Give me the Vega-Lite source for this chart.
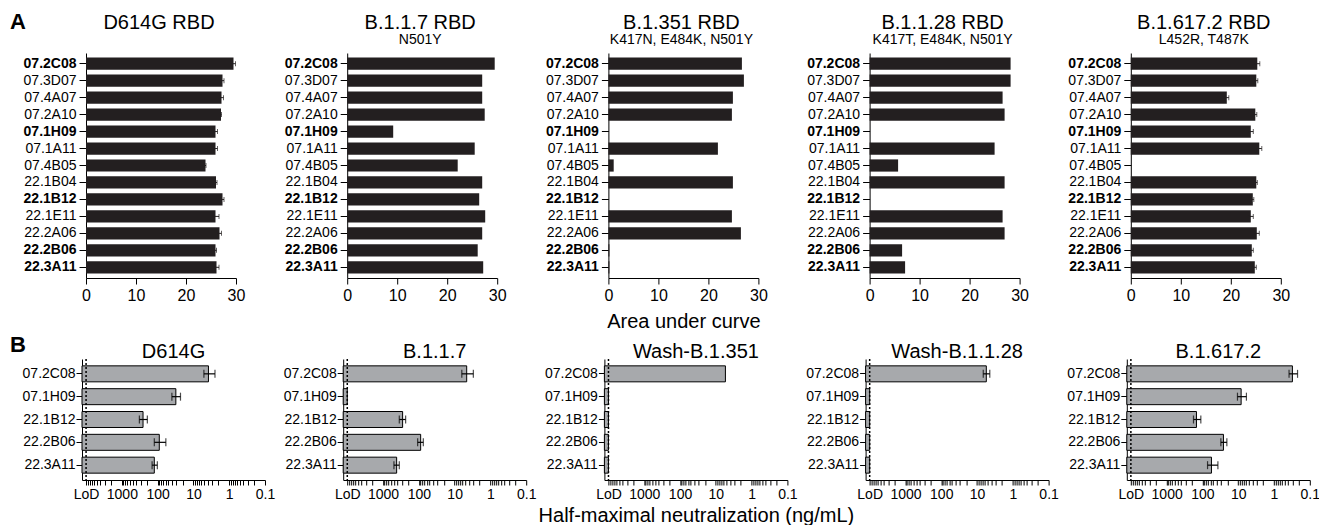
{
  "$schema": "https://vega.github.io/schema/vega-lite/v6.json",
  "padding": {"left": 10, "top": 10, "right": 0, "bottom": 0},
  "config": {
    "font": "Liberation Sans",
    "view": {"stroke": null},
    "axis": {"domainColor": "black", "tickColor": "black", "labelColor": "black", "titleColor": "black", "grid": false, "labelFontSize": 14, "titleFontSize": 20, "titleFontWeight": "normal", "domainWidth": 1, "tickWidth": 1, "labelFlush": false},
    "title": {"fontSize": 20, "fontWeight": "normal", "subtitleFontSize": 14, "color": "black", "subtitleColor": "black", "anchor": "middle"}
  },
  "datasets": {
    "auc": [
      {"panel": "D614G RBD", "mAb": "07.2C08", "auc": 29.5, "lo": 29.1, "hi": 29.9},
      {"panel": "D614G RBD", "mAb": "07.3D07", "auc": 27.3, "lo": 27.0, "hi": 27.6},
      {"panel": "D614G RBD", "mAb": "07.4A07", "auc": 27.1, "lo": 26.7, "hi": 27.5},
      {"panel": "D614G RBD", "mAb": "07.2A10", "auc": 27.0, "lo": 26.9, "hi": 27.1},
      {"panel": "D614G RBD", "mAb": "07.1H09", "auc": 25.9, "lo": 25.5, "hi": 26.3},
      {"panel": "D614G RBD", "mAb": "07.1A11", "auc": 25.9, "lo": 25.5, "hi": 26.3},
      {"panel": "D614G RBD", "mAb": "07.4B05", "auc": 23.9, "lo": 23.8, "hi": 24.0},
      {"panel": "D614G RBD", "mAb": "22.1B04", "auc": 26.0, "lo": 25.8, "hi": 26.2},
      {"panel": "D614G RBD", "mAb": "22.1B12", "auc": 27.3, "lo": 27.0, "hi": 27.6},
      {"panel": "D614G RBD", "mAb": "22.1E11", "auc": 25.9, "lo": 25.2, "hi": 26.6},
      {"panel": "D614G RBD", "mAb": "22.2A06", "auc": 26.7, "lo": 26.3, "hi": 27.1},
      {"panel": "D614G RBD", "mAb": "22.2B06", "auc": 25.9, "lo": 25.7, "hi": 26.1},
      {"panel": "D614G RBD", "mAb": "22.3A11", "auc": 26.1, "lo": 25.6, "hi": 26.6},
      {"panel": "B.1.1.7 RBD", "mAb": "07.2C08", "auc": 29.5},
      {"panel": "B.1.1.7 RBD", "mAb": "07.3D07", "auc": 27.0},
      {"panel": "B.1.1.7 RBD", "mAb": "07.4A07", "auc": 27.0},
      {"panel": "B.1.1.7 RBD", "mAb": "07.2A10", "auc": 27.5},
      {"panel": "B.1.1.7 RBD", "mAb": "07.1H09", "auc": 9.2},
      {"panel": "B.1.1.7 RBD", "mAb": "07.1A11", "auc": 25.5},
      {"panel": "B.1.1.7 RBD", "mAb": "07.4B05", "auc": 22.1},
      {"panel": "B.1.1.7 RBD", "mAb": "22.1B04", "auc": 27.0},
      {"panel": "B.1.1.7 RBD", "mAb": "22.1B12", "auc": 26.4},
      {"panel": "B.1.1.7 RBD", "mAb": "22.1E11", "auc": 27.6},
      {"panel": "B.1.1.7 RBD", "mAb": "22.2A06", "auc": 27.0},
      {"panel": "B.1.1.7 RBD", "mAb": "22.2B06", "auc": 26.1},
      {"panel": "B.1.1.7 RBD", "mAb": "22.3A11", "auc": 27.2},
      {"panel": "B.1.351 RBD", "mAb": "07.2C08", "auc": 26.7},
      {"panel": "B.1.351 RBD", "mAb": "07.3D07", "auc": 27.1},
      {"panel": "B.1.351 RBD", "mAb": "07.4A07", "auc": 24.9},
      {"panel": "B.1.351 RBD", "mAb": "07.2A10", "auc": 24.7},
      {"panel": "B.1.351 RBD", "mAb": "07.1H09", "auc": 0},
      {"panel": "B.1.351 RBD", "mAb": "07.1A11", "auc": 21.9},
      {"panel": "B.1.351 RBD", "mAb": "07.4B05", "auc": 1.06},
      {"panel": "B.1.351 RBD", "mAb": "22.1B04", "auc": 24.9},
      {"panel": "B.1.351 RBD", "mAb": "22.1B12", "auc": 0},
      {"panel": "B.1.351 RBD", "mAb": "22.1E11", "auc": 24.7},
      {"panel": "B.1.351 RBD", "mAb": "22.2A06", "auc": 26.5},
      {"panel": "B.1.351 RBD", "mAb": "22.2B06", "auc": 0.2},
      {"panel": "B.1.351 RBD", "mAb": "22.3A11", "auc": 0.2},
      {"panel": "B.1.1.28 RBD", "mAb": "07.2C08", "auc": 28.2},
      {"panel": "B.1.1.28 RBD", "mAb": "07.3D07", "auc": 28.2},
      {"panel": "B.1.1.28 RBD", "mAb": "07.4A07", "auc": 26.6},
      {"panel": "B.1.1.28 RBD", "mAb": "07.2A10", "auc": 27.0},
      {"panel": "B.1.1.28 RBD", "mAb": "07.1H09", "auc": 0},
      {"panel": "B.1.1.28 RBD", "mAb": "07.1A11", "auc": 25.0},
      {"panel": "B.1.1.28 RBD", "mAb": "07.4B05", "auc": 5.7},
      {"panel": "B.1.1.28 RBD", "mAb": "22.1B04", "auc": 27.0},
      {"panel": "B.1.1.28 RBD", "mAb": "22.1B12", "auc": 0},
      {"panel": "B.1.1.28 RBD", "mAb": "22.1E11", "auc": 26.6},
      {"panel": "B.1.1.28 RBD", "mAb": "22.2A06", "auc": 27.0},
      {"panel": "B.1.1.28 RBD", "mAb": "22.2B06", "auc": 6.5},
      {"panel": "B.1.1.28 RBD", "mAb": "22.3A11", "auc": 7.1},
      {"panel": "B.1.617.2 RBD", "mAb": "07.2C08", "auc": 25.3, "lo": 24.8, "hi": 25.8},
      {"panel": "B.1.617.2 RBD", "mAb": "07.3D07", "auc": 25.1, "lo": 24.8, "hi": 25.4},
      {"panel": "B.1.617.2 RBD", "mAb": "07.4A07", "auc": 19.2, "lo": 18.8, "hi": 19.6},
      {"panel": "B.1.617.2 RBD", "mAb": "07.2A10", "auc": 24.9, "lo": 24.6, "hi": 25.2},
      {"panel": "B.1.617.2 RBD", "mAb": "07.1H09", "auc": 24.0, "lo": 23.5, "hi": 24.5},
      {"panel": "B.1.617.2 RBD", "mAb": "07.1A11", "auc": 25.7, "lo": 25.2, "hi": 26.2},
      {"panel": "B.1.617.2 RBD", "mAb": "07.4B05", "auc": 0},
      {"panel": "B.1.617.2 RBD", "mAb": "22.1B04", "auc": 25.1, "lo": 24.9, "hi": 25.3},
      {"panel": "B.1.617.2 RBD", "mAb": "22.1B12", "auc": 24.4, "lo": 24.2, "hi": 24.6},
      {"panel": "B.1.617.2 RBD", "mAb": "22.1E11", "auc": 24.0, "lo": 23.5, "hi": 24.5},
      {"panel": "B.1.617.2 RBD", "mAb": "22.2A06", "auc": 25.2, "lo": 24.7, "hi": 25.7},
      {"panel": "B.1.617.2 RBD", "mAb": "22.2B06", "auc": 24.2, "lo": 23.9, "hi": 24.5},
      {"panel": "B.1.617.2 RBD", "mAb": "22.3A11", "auc": 24.8, "lo": 24.5, "hi": 25.1}
    ],
    "neut": [
      {"panel": "D614G", "mAb": "07.2C08", "ic50": 3.8, "lo": 2.5, "hi": 5.1},
      {"panel": "D614G", "mAb": "07.1H09", "ic50": 31, "lo": 23, "hi": 40},
      {"panel": "D614G", "mAb": "22.1B12", "ic50": 256, "lo": 194, "hi": 324},
      {"panel": "D614G", "mAb": "22.2B06", "ic50": 90, "lo": 59, "hi": 124},
      {"panel": "D614G", "mAb": "22.3A11", "ic50": 124, "lo": 102, "hi": 143},
      {"panel": "B.1.1.7", "mAb": "07.2C08", "ic50": 4.6, "lo": 3.0, "hi": 6.3},
      {"panel": "B.1.1.7", "mAb": "07.1H09", "ic50": 10000},
      {"panel": "B.1.1.7", "mAb": "22.1B12", "ic50": 284, "lo": 234, "hi": 352},
      {"panel": "B.1.1.7", "mAb": "22.2B06", "ic50": 89, "lo": 75, "hi": 108},
      {"panel": "B.1.1.7", "mAb": "22.3A11", "ic50": 417, "lo": 352, "hi": 497},
      {"panel": "Wash-B.1.351", "mAb": "07.2C08", "ic50": 5.4},
      {"panel": "Wash-B.1.351", "mAb": "07.1H09", "ic50": 10000},
      {"panel": "Wash-B.1.351", "mAb": "22.1B12", "ic50": 10000},
      {"panel": "Wash-B.1.351", "mAb": "22.2B06", "ic50": 10000},
      {"panel": "Wash-B.1.351", "mAb": "22.3A11", "ic50": 10000},
      {"panel": "Wash-B.1.1.28", "mAb": "07.2C08", "ic50": 5.5, "lo": 4.4, "hi": 6.7},
      {"panel": "Wash-B.1.1.28", "mAb": "07.1H09", "ic50": 10000},
      {"panel": "Wash-B.1.1.28", "mAb": "22.1B12", "ic50": 10000},
      {"panel": "Wash-B.1.1.28", "mAb": "22.2B06", "ic50": 10000},
      {"panel": "Wash-B.1.1.28", "mAb": "22.3A11", "ic50": 10000},
      {"panel": "B.1.617.2", "mAb": "07.2C08", "ic50": 0.306, "lo": 0.22, "hi": 0.38},
      {"panel": "B.1.617.2", "mAb": "07.1H09", "ic50": 8.3, "lo": 5.9, "hi": 10.5},
      {"panel": "B.1.617.2", "mAb": "22.1B12", "ic50": 147, "lo": 111, "hi": 178},
      {"panel": "B.1.617.2", "mAb": "22.2B06", "ic50": 25.9, "lo": 20.8, "hi": 30.6},
      {"panel": "B.1.617.2", "mAb": "22.3A11", "ic50": 56, "lo": 37, "hi": 72}
    ]
  },
  "spacing": 3,
  "vconcat": [
    {
      "bounds": "flush",
      "spacing": 107.2,
      "title": {"text": "A", "anchor": "start", "frame": "bounds", "fontSize": 22, "fontWeight": "bold", "offset": 0, "dx": -13, "dy": 21},
      "hconcat": [
        {
          "width": 154, "height": 225,
          "title": {"text": "D614G RBD", "subtitle": " ", "offset": 6.5, "subtitlePadding": 0},
          "data": {"name": "auc"},
          "transform": [{"filter": "datum.panel == 'D614G RBD'"}],
          "layer": [
            {"mark": {"type": "bar", "color": "#231f20"},
             "encoding": {
               "y": {"field": "mAb", "type": "nominal", "sort": ["07.2C08","07.3D07","07.4A07","07.2A10","07.1H09","07.1A11","07.4B05","22.1B04","22.1B12","22.1E11","22.2A06","22.2B06","22.3A11"], "scale": {"paddingInner": 0.28, "paddingOuter": 0.27}, "axis": {"title": null, "offset": -4, "tickSize": 7, "labelPadding": 3, "labelFontSize": 14, "labelFontWeight": {"condition": {"test": "indexof(['07.2C08','07.1H09','22.1B12','22.2B06','22.3A11'], datum.value) >= 0", "value": "bold"}, "value": "normal"}}},
               "x": {"field": "auc", "type": "quantitative", "scale": {"domain": [0, 30], "range": [4, 154], "nice": false}, "axis": {"title": null, "values": [0, 10, 20, 30], "tickSize": 6, "labelPadding": 3, "labelFontSize": 16}}
             }},
            {"transform": [{"filter": "isValid(datum.hi)"}],
             "mark": {"type": "rule", "color": "#231f20"},
             "encoding": {"y": {"field": "mAb", "type": "nominal", "sort": ["07.2C08","07.3D07","07.4A07","07.2A10","07.1H09","07.1A11","07.4B05","22.1B04","22.1B12","22.1E11","22.2A06","22.2B06","22.3A11"]}, "x": {"field": "lo", "type": "quantitative", "axis": {"title": null}}, "x2": {"field": "hi"}}},
            {"transform": [{"filter": "isValid(datum.hi)"}],
             "mark": {"type": "tick", "orient": "vertical", "size": 5, "thickness": 1, "color": "#231f20"},
             "encoding": {"y": {"field": "mAb", "type": "nominal", "sort": ["07.2C08","07.3D07","07.4A07","07.2A10","07.1H09","07.1A11","07.4B05","22.1B04","22.1B12","22.1E11","22.2A06","22.2B06","22.3A11"]}, "x": {"field": "hi", "type": "quantitative", "axis": {"title": null}}}}
          ]
        },
        {
          "width": 154, "height": 225,
          "title": {"text": "B.1.1.7 RBD", "subtitle": "N501Y", "offset": 6.5, "subtitlePadding": 0},
          "data": {"name": "auc"},
          "transform": [{"filter": "datum.panel == 'B.1.1.7 RBD'"}],
          "mark": {"type": "bar", "color": "#231f20"},
          "encoding": {
            "y": {"field": "mAb", "type": "nominal", "sort": ["07.2C08","07.3D07","07.4A07","07.2A10","07.1H09","07.1A11","07.4B05","22.1B04","22.1B12","22.1E11","22.2A06","22.2B06","22.3A11"], "scale": {"paddingInner": 0.28, "paddingOuter": 0.27}, "axis": {"title": null, "offset": -4, "tickSize": 7, "labelPadding": 3, "labelFontSize": 14, "labelFontWeight": {"condition": {"test": "indexof(['07.2C08','07.1H09','22.1B12','22.2B06','22.3A11'], datum.value) >= 0", "value": "bold"}, "value": "normal"}}},
            "x": {"field": "auc", "type": "quantitative", "scale": {"domain": [0, 30], "range": [4, 154], "nice": false}, "axis": {"title": null, "values": [0, 10, 20, 30], "tickSize": 6, "labelPadding": 3, "labelFontSize": 16}}
          }
        },
        {
          "width": 154, "height": 225,
          "title": {"text": "B.1.351 RBD", "subtitle": "K417N, E484K, N501Y", "offset": 6.5, "subtitlePadding": 0},
          "data": {"name": "auc"},
          "transform": [{"filter": "datum.panel == 'B.1.351 RBD'"}],
          "mark": {"type": "bar", "color": "#231f20"},
          "encoding": {
            "y": {"field": "mAb", "type": "nominal", "sort": ["07.2C08","07.3D07","07.4A07","07.2A10","07.1H09","07.1A11","07.4B05","22.1B04","22.1B12","22.1E11","22.2A06","22.2B06","22.3A11"], "scale": {"paddingInner": 0.28, "paddingOuter": 0.27}, "axis": {"title": null, "offset": -4, "tickSize": 7, "labelPadding": 3, "labelFontSize": 14, "labelFontWeight": {"condition": {"test": "indexof(['07.2C08','07.1H09','22.1B12','22.2B06','22.3A11'], datum.value) >= 0", "value": "bold"}, "value": "normal"}}},
            "x": {"field": "auc", "type": "quantitative", "scale": {"domain": [0, 30], "range": [4, 154], "nice": false}, "axis": {"title": "Area under curve", "titlePadding": 8, "titleFontSize": 20, "values": [0, 10, 20, 30], "tickSize": 6, "labelPadding": 3, "labelFontSize": 16}}
          }
        },
        {
          "width": 154, "height": 225,
          "title": {"text": "B.1.1.28 RBD", "subtitle": "K417T, E484K, N501Y", "offset": 6.5, "subtitlePadding": 0},
          "data": {"name": "auc"},
          "transform": [{"filter": "datum.panel == 'B.1.1.28 RBD'"}],
          "mark": {"type": "bar", "color": "#231f20"},
          "encoding": {
            "y": {"field": "mAb", "type": "nominal", "sort": ["07.2C08","07.3D07","07.4A07","07.2A10","07.1H09","07.1A11","07.4B05","22.1B04","22.1B12","22.1E11","22.2A06","22.2B06","22.3A11"], "scale": {"paddingInner": 0.28, "paddingOuter": 0.27}, "axis": {"title": null, "offset": -4, "tickSize": 7, "labelPadding": 3, "labelFontSize": 14, "labelFontWeight": {"condition": {"test": "indexof(['07.2C08','07.1H09','22.1B12','22.2B06','22.3A11'], datum.value) >= 0", "value": "bold"}, "value": "normal"}}},
            "x": {"field": "auc", "type": "quantitative", "scale": {"domain": [0, 30], "range": [4, 154], "nice": false}, "axis": {"title": null, "values": [0, 10, 20, 30], "tickSize": 6, "labelPadding": 3, "labelFontSize": 16}}
          }
        },
        {
          "width": 154, "height": 225,
          "title": {"text": "B.1.617.2 RBD", "subtitle": "L452R, T487K", "offset": 6.5, "subtitlePadding": 0},
          "data": {"name": "auc"},
          "transform": [{"filter": "datum.panel == 'B.1.617.2 RBD'"}],
          "layer": [
            {"mark": {"type": "bar", "color": "#231f20"},
             "encoding": {
               "y": {"field": "mAb", "type": "nominal", "sort": ["07.2C08","07.3D07","07.4A07","07.2A10","07.1H09","07.1A11","07.4B05","22.1B04","22.1B12","22.1E11","22.2A06","22.2B06","22.3A11"], "scale": {"paddingInner": 0.28, "paddingOuter": 0.27}, "axis": {"title": null, "offset": -4, "tickSize": 7, "labelPadding": 3, "labelFontSize": 14, "labelFontWeight": {"condition": {"test": "indexof(['07.2C08','07.1H09','22.1B12','22.2B06','22.3A11'], datum.value) >= 0", "value": "bold"}, "value": "normal"}}},
               "x": {"field": "auc", "type": "quantitative", "scale": {"domain": [0, 30], "range": [4, 154], "nice": false}, "axis": {"title": null, "values": [0, 10, 20, 30], "tickSize": 6, "labelPadding": 3, "labelFontSize": 16}}
             }},
            {"transform": [{"filter": "isValid(datum.hi)"}],
             "mark": {"type": "rule", "color": "#231f20"},
             "encoding": {"y": {"field": "mAb", "type": "nominal", "sort": ["07.2C08","07.3D07","07.4A07","07.2A10","07.1H09","07.1A11","07.4B05","22.1B04","22.1B12","22.1E11","22.2A06","22.2B06","22.3A11"]}, "x": {"field": "lo", "type": "quantitative", "axis": {"title": null}}, "x2": {"field": "hi"}}},
            {"transform": [{"filter": "isValid(datum.hi)"}],
             "mark": {"type": "tick", "orient": "vertical", "size": 5, "thickness": 1, "color": "#231f20"},
             "encoding": {"y": {"field": "mAb", "type": "nominal", "sort": ["07.2C08","07.3D07","07.4A07","07.2A10","07.1H09","07.1A11","07.4B05","22.1B04","22.1B12","22.1E11","22.2A06","22.2B06","22.3A11"]}, "x": {"field": "hi", "type": "quantitative", "axis": {"title": null}}}}
          ]
        }
      ]
    },
    {
      "bounds": "flush",
      "spacing": 78.2,
      "title": {"text": "B", "anchor": "start", "frame": "bounds", "fontSize": 22, "fontWeight": "bold", "offset": 0, "dx": -12, "dy": 15},
      "hconcat": [
        {
          "width": 183, "height": 121,
          "title": {"text": "D614G", "offset": -4},
          "layer": [
            {"data": {"name": "neut"}, "transform": [{"filter": "datum.panel == 'D614G'"}],
             "mark": {"type": "bar", "fill": "#a7a9ac", "stroke": "black", "strokeWidth": 1},
             "encoding": {
               "y": {"field": "mAb", "type": "nominal", "sort": ["07.2C08","07.1H09","22.1B12","22.2B06","22.3A11"], "scale": {"paddingInner": 0.3, "paddingOuter": 0.3}, "axis": {"title": null, "tickSize": 6, "labelPadding": 1, "labelFontSize": 14}},
               "x": {"field": "ic50", "type": "quantitative", "scale": {"type": "log", "domain": [0.1, 13000], "reverse": true, "nice": false}, "axis": {"title": null, "values": [10000,9000,8000,7000,6000,5000,4000,3000,2000,1000,900,800,700,600,500,400,300,200,100,90,80,70,60,50,40,30,20,10,9,8,7,6,5,4,3,2,1,0.9,0.8,0.7,0.6,0.5,0.4,0.3,0.2,0.1], "format": "~g", "labelOverlap": false, "labelFontSize": 14, "labelPadding": 2, "tickSize": 5, "labelExpr": "datum.value >= 9999 ? 'LoD' : (abs(log(datum.value)/LN10 - round(log(datum.value)/LN10)) < 0.001 ? datum.label : '')", "encode": {"ticks": {"update": {"y2": {"signal": "abs(log(datum.value)/LN10 - round(log(datum.value)/LN10)) < 0.001 ? 5 : 3"}}}}}},
               "x2": {"datum": 13000}
             }},
            {"data": {"values": [{}]}, "mark": {"type": "rule", "color": "black", "strokeWidth": 1.5, "strokeDash": [2, 2]}, "encoding": {"x": {"datum": 10000, "type": "quantitative"}}},
            {"data": {"name": "neut"}, "transform": [{"filter": "datum.panel == 'D614G' && isValid(datum.hi)"}],
             "mark": {"type": "rule", "color": "black", "strokeWidth": 1.2},
             "encoding": {"y": {"field": "mAb", "type": "nominal", "sort": ["07.2C08","07.1H09","22.1B12","22.2B06","22.3A11"]}, "x": {"field": "lo", "type": "quantitative"}, "x2": {"field": "hi"}}},
            {"data": {"name": "neut"}, "transform": [{"filter": "datum.panel == 'D614G' && isValid(datum.hi)"}],
             "mark": {"type": "tick", "orient": "vertical", "size": 8, "thickness": 1.2, "color": "black"},
             "encoding": {"y": {"field": "mAb", "type": "nominal", "sort": ["07.2C08","07.1H09","22.1B12","22.2B06","22.3A11"]}, "x": {"field": "lo", "type": "quantitative"}}},
            {"data": {"name": "neut"}, "transform": [{"filter": "datum.panel == 'D614G' && isValid(datum.hi)"}],
             "mark": {"type": "tick", "orient": "vertical", "size": 8, "thickness": 1.2, "color": "black"},
             "encoding": {"y": {"field": "mAb", "type": "nominal", "sort": ["07.2C08","07.1H09","22.1B12","22.2B06","22.3A11"]}, "x": {"field": "hi", "type": "quantitative"}}}
          ]
        },
        {
          "width": 183, "height": 121,
          "title": {"text": "B.1.1.7", "offset": -4},
          "layer": [
            {"data": {"name": "neut"}, "transform": [{"filter": "datum.panel == 'B.1.1.7'"}],
             "mark": {"type": "bar", "fill": "#a7a9ac", "stroke": "black", "strokeWidth": 1},
             "encoding": {
               "y": {"field": "mAb", "type": "nominal", "sort": ["07.2C08","07.1H09","22.1B12","22.2B06","22.3A11"], "scale": {"paddingInner": 0.3, "paddingOuter": 0.3}, "axis": {"title": null, "tickSize": 6, "labelPadding": 1, "labelFontSize": 14}},
               "x": {"field": "ic50", "type": "quantitative", "scale": {"type": "log", "domain": [0.1, 13000], "reverse": true, "nice": false}, "axis": {"title": null, "values": [10000,9000,8000,7000,6000,5000,4000,3000,2000,1000,900,800,700,600,500,400,300,200,100,90,80,70,60,50,40,30,20,10,9,8,7,6,5,4,3,2,1,0.9,0.8,0.7,0.6,0.5,0.4,0.3,0.2,0.1], "format": "~g", "labelOverlap": false, "labelFontSize": 14, "labelPadding": 2, "tickSize": 5, "labelExpr": "datum.value >= 9999 ? 'LoD' : (abs(log(datum.value)/LN10 - round(log(datum.value)/LN10)) < 0.001 ? datum.label : '')", "encode": {"ticks": {"update": {"y2": {"signal": "abs(log(datum.value)/LN10 - round(log(datum.value)/LN10)) < 0.001 ? 5 : 3"}}}}}},
               "x2": {"datum": 13000}
             }},
            {"data": {"values": [{}]}, "mark": {"type": "rule", "color": "black", "strokeWidth": 1.5, "strokeDash": [2, 2]}, "encoding": {"x": {"datum": 10000, "type": "quantitative"}}},
            {"data": {"name": "neut"}, "transform": [{"filter": "datum.panel == 'B.1.1.7' && isValid(datum.hi)"}],
             "mark": {"type": "rule", "color": "black", "strokeWidth": 1.2},
             "encoding": {"y": {"field": "mAb", "type": "nominal", "sort": ["07.2C08","07.1H09","22.1B12","22.2B06","22.3A11"]}, "x": {"field": "lo", "type": "quantitative"}, "x2": {"field": "hi"}}},
            {"data": {"name": "neut"}, "transform": [{"filter": "datum.panel == 'B.1.1.7' && isValid(datum.hi)"}],
             "mark": {"type": "tick", "orient": "vertical", "size": 8, "thickness": 1.2, "color": "black"},
             "encoding": {"y": {"field": "mAb", "type": "nominal", "sort": ["07.2C08","07.1H09","22.1B12","22.2B06","22.3A11"]}, "x": {"field": "lo", "type": "quantitative"}}},
            {"data": {"name": "neut"}, "transform": [{"filter": "datum.panel == 'B.1.1.7' && isValid(datum.hi)"}],
             "mark": {"type": "tick", "orient": "vertical", "size": 8, "thickness": 1.2, "color": "black"},
             "encoding": {"y": {"field": "mAb", "type": "nominal", "sort": ["07.2C08","07.1H09","22.1B12","22.2B06","22.3A11"]}, "x": {"field": "hi", "type": "quantitative"}}}
          ]
        },
        {
          "width": 183, "height": 121,
          "title": {"text": "Wash-B.1.351", "offset": -4},
          "layer": [
            {"data": {"name": "neut"}, "transform": [{"filter": "datum.panel == 'Wash-B.1.351'"}],
             "mark": {"type": "bar", "fill": "#a7a9ac", "stroke": "black", "strokeWidth": 1},
             "encoding": {
               "y": {"field": "mAb", "type": "nominal", "sort": ["07.2C08","07.1H09","22.1B12","22.2B06","22.3A11"], "scale": {"paddingInner": 0.3, "paddingOuter": 0.3}, "axis": {"title": null, "tickSize": 6, "labelPadding": 1, "labelFontSize": 14}},
               "x": {"field": "ic50", "type": "quantitative", "scale": {"type": "log", "domain": [0.1, 13000], "reverse": true, "nice": false}, "axis": {"title": "Half-maximal neutralization (ng/mL)", "titlePadding": 4, "titleFontSize": 20, "values": [10000,9000,8000,7000,6000,5000,4000,3000,2000,1000,900,800,700,600,500,400,300,200,100,90,80,70,60,50,40,30,20,10,9,8,7,6,5,4,3,2,1,0.9,0.8,0.7,0.6,0.5,0.4,0.3,0.2,0.1], "format": "~g", "labelOverlap": false, "labelFontSize": 14, "labelPadding": 2, "tickSize": 5, "labelExpr": "datum.value >= 9999 ? 'LoD' : (abs(log(datum.value)/LN10 - round(log(datum.value)/LN10)) < 0.001 ? datum.label : '')", "encode": {"ticks": {"update": {"y2": {"signal": "abs(log(datum.value)/LN10 - round(log(datum.value)/LN10)) < 0.001 ? 5 : 3"}}}}}},
               "x2": {"datum": 13000}
             }},
            {"data": {"values": [{}]}, "mark": {"type": "rule", "color": "black", "strokeWidth": 1.5, "strokeDash": [2, 2]}, "encoding": {"x": {"datum": 10000, "type": "quantitative"}}}
          ]
        },
        {
          "width": 183, "height": 121,
          "title": {"text": "Wash-B.1.1.28", "offset": -4},
          "layer": [
            {"data": {"name": "neut"}, "transform": [{"filter": "datum.panel == 'Wash-B.1.1.28'"}],
             "mark": {"type": "bar", "fill": "#a7a9ac", "stroke": "black", "strokeWidth": 1},
             "encoding": {
               "y": {"field": "mAb", "type": "nominal", "sort": ["07.2C08","07.1H09","22.1B12","22.2B06","22.3A11"], "scale": {"paddingInner": 0.3, "paddingOuter": 0.3}, "axis": {"title": null, "tickSize": 6, "labelPadding": 1, "labelFontSize": 14}},
               "x": {"field": "ic50", "type": "quantitative", "scale": {"type": "log", "domain": [0.1, 13000], "reverse": true, "nice": false}, "axis": {"title": null, "values": [10000,9000,8000,7000,6000,5000,4000,3000,2000,1000,900,800,700,600,500,400,300,200,100,90,80,70,60,50,40,30,20,10,9,8,7,6,5,4,3,2,1,0.9,0.8,0.7,0.6,0.5,0.4,0.3,0.2,0.1], "format": "~g", "labelOverlap": false, "labelFontSize": 14, "labelPadding": 2, "tickSize": 5, "labelExpr": "datum.value >= 9999 ? 'LoD' : (abs(log(datum.value)/LN10 - round(log(datum.value)/LN10)) < 0.001 ? datum.label : '')", "encode": {"ticks": {"update": {"y2": {"signal": "abs(log(datum.value)/LN10 - round(log(datum.value)/LN10)) < 0.001 ? 5 : 3"}}}}}},
               "x2": {"datum": 13000}
             }},
            {"data": {"values": [{}]}, "mark": {"type": "rule", "color": "black", "strokeWidth": 1.5, "strokeDash": [2, 2]}, "encoding": {"x": {"datum": 10000, "type": "quantitative"}}},
            {"data": {"name": "neut"}, "transform": [{"filter": "datum.panel == 'Wash-B.1.1.28' && isValid(datum.hi)"}],
             "mark": {"type": "rule", "color": "black", "strokeWidth": 1.2},
             "encoding": {"y": {"field": "mAb", "type": "nominal", "sort": ["07.2C08","07.1H09","22.1B12","22.2B06","22.3A11"]}, "x": {"field": "lo", "type": "quantitative"}, "x2": {"field": "hi"}}},
            {"data": {"name": "neut"}, "transform": [{"filter": "datum.panel == 'Wash-B.1.1.28' && isValid(datum.hi)"}],
             "mark": {"type": "tick", "orient": "vertical", "size": 8, "thickness": 1.2, "color": "black"},
             "encoding": {"y": {"field": "mAb", "type": "nominal", "sort": ["07.2C08","07.1H09","22.1B12","22.2B06","22.3A11"]}, "x": {"field": "lo", "type": "quantitative"}}},
            {"data": {"name": "neut"}, "transform": [{"filter": "datum.panel == 'Wash-B.1.1.28' && isValid(datum.hi)"}],
             "mark": {"type": "tick", "orient": "vertical", "size": 8, "thickness": 1.2, "color": "black"},
             "encoding": {"y": {"field": "mAb", "type": "nominal", "sort": ["07.2C08","07.1H09","22.1B12","22.2B06","22.3A11"]}, "x": {"field": "hi", "type": "quantitative"}}}
          ]
        },
        {
          "width": 183, "height": 121,
          "title": {"text": "B.1.617.2", "offset": -4},
          "layer": [
            {"data": {"name": "neut"}, "transform": [{"filter": "datum.panel == 'B.1.617.2'"}],
             "mark": {"type": "bar", "fill": "#a7a9ac", "stroke": "black", "strokeWidth": 1},
             "encoding": {
               "y": {"field": "mAb", "type": "nominal", "sort": ["07.2C08","07.1H09","22.1B12","22.2B06","22.3A11"], "scale": {"paddingInner": 0.3, "paddingOuter": 0.3}, "axis": {"title": null, "tickSize": 6, "labelPadding": 1, "labelFontSize": 14}},
               "x": {"field": "ic50", "type": "quantitative", "scale": {"type": "log", "domain": [0.1, 13000], "reverse": true, "nice": false}, "axis": {"title": null, "values": [10000,9000,8000,7000,6000,5000,4000,3000,2000,1000,900,800,700,600,500,400,300,200,100,90,80,70,60,50,40,30,20,10,9,8,7,6,5,4,3,2,1,0.9,0.8,0.7,0.6,0.5,0.4,0.3,0.2,0.1], "format": "~g", "labelOverlap": false, "labelFontSize": 14, "labelPadding": 2, "tickSize": 5, "labelExpr": "datum.value >= 9999 ? 'LoD' : (abs(log(datum.value)/LN10 - round(log(datum.value)/LN10)) < 0.001 ? datum.label : '')", "encode": {"ticks": {"update": {"y2": {"signal": "abs(log(datum.value)/LN10 - round(log(datum.value)/LN10)) < 0.001 ? 5 : 3"}}}}}},
               "x2": {"datum": 13000}
             }},
            {"data": {"values": [{}]}, "mark": {"type": "rule", "color": "black", "strokeWidth": 1.5, "strokeDash": [2, 2]}, "encoding": {"x": {"datum": 10000, "type": "quantitative"}}},
            {"data": {"name": "neut"}, "transform": [{"filter": "datum.panel == 'B.1.617.2' && isValid(datum.hi)"}],
             "mark": {"type": "rule", "color": "black", "strokeWidth": 1.2},
             "encoding": {"y": {"field": "mAb", "type": "nominal", "sort": ["07.2C08","07.1H09","22.1B12","22.2B06","22.3A11"]}, "x": {"field": "lo", "type": "quantitative"}, "x2": {"field": "hi"}}},
            {"data": {"name": "neut"}, "transform": [{"filter": "datum.panel == 'B.1.617.2' && isValid(datum.hi)"}],
             "mark": {"type": "tick", "orient": "vertical", "size": 8, "thickness": 1.2, "color": "black"},
             "encoding": {"y": {"field": "mAb", "type": "nominal", "sort": ["07.2C08","07.1H09","22.1B12","22.2B06","22.3A11"]}, "x": {"field": "lo", "type": "quantitative"}}},
            {"data": {"name": "neut"}, "transform": [{"filter": "datum.panel == 'B.1.617.2' && isValid(datum.hi)"}],
             "mark": {"type": "tick", "orient": "vertical", "size": 8, "thickness": 1.2, "color": "black"},
             "encoding": {"y": {"field": "mAb", "type": "nominal", "sort": ["07.2C08","07.1H09","22.1B12","22.2B06","22.3A11"]}, "x": {"field": "hi", "type": "quantitative"}}}
          ]
        }
      ]
    }
  ]
}
